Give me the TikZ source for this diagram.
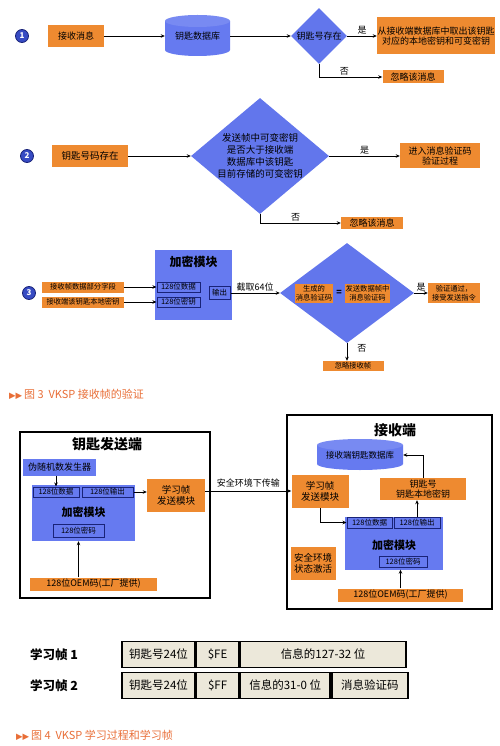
\documentclass[tikz,border=0pt]{standalone}
\usepackage{fontspec}
\setmainfont{Noto Sans CJK SC}
\newfontfamily\symfont{DejaVu Sans}
\usepackage{tikz}
\usetikzlibrary{arrows.meta}
\usetikzlibrary{positioning}
\usetikzlibrary{shapes.geometric}

\definecolor{boxorange}{RGB}{238,138,48}
\definecolor{modblue}{RGB}{102,122,240}
\definecolor{diablue}{RGB}{98,118,236}
\definecolor{navyline}{RGB}{25,35,120}
\definecolor{numblue}{RGB}{55,75,195}
\definecolor{cellfill}{RGB}{236,232,218}
\definecolor{capcolor}{RGB}{232,110,55}

\begin{document}
\begin{tikzpicture}[x=1pt,y=-1pt,
    arr/.style={line width=0.8pt,-{Stealth[length=4pt,width=3.5pt]}},
    obox/.style={fill=boxorange,inner sep=0.5pt,align=center,font=\fontsize{9}{10.5}\selectfont},
    sbox/.style={obox,font=\fontsize{7.3}{8.5}\selectfont},
    bbox/.style={fill=modblue,inner sep=0.5pt,align=center,font=\fontsize{9}{10.5}\selectfont},
    mod/.style={fill=modblue,inner sep=0pt},
    ibox/.style={draw=navyline,line width=1pt,fill=modblue,inner sep=0pt,font=\fontsize{7.5}{8.5}\selectfont},
    dia/.style={diamond,fill=diablue,inner sep=0pt},
    numdot/.style={circle,fill=numblue,draw=navyline,line width=0.8pt,text=white,inner sep=0pt,minimum size=13,font=\bfseries\fontsize{8}{8}\selectfont},
    frame/.style={draw,line width=1.3pt,inner sep=0pt},
    title/.style={font=\bfseries\fontsize{14}{15}\selectfont},
    lbl/.style={font=\fontsize{9}{10}\selectfont,inner sep=1pt},
    cell/.style={draw,line width=1.6pt,fill=cellfill,minimum height=26,inner sep=0pt,font=\fontsize{11.5}{12}\selectfont},
    captext/.style={text=capcolor,anchor=west,inner sep=0pt,font=\fontsize{11}{12}\selectfont}]
\useasboundingbox (0,0) rectangle (500,746);

% step 1
\node[numdot] (n1) at (22,36) {1};
\node[obox,minimum width=56,minimum height=22] (recv) at (76,36) {接收消息};
\fill[modblue] (165,21) -- (165,50) arc[start angle=180,end angle=360,x radius=32.5pt,y radius=6pt] -- (230,21) -- cycle;
\fill[modblue!88!white] (197.5,21) ellipse[x radius=32.5pt,y radius=6pt];
\node[inner sep=0,minimum width=65,minimum height=41,font=\fontsize{9}{10}\selectfont] (keydb) at (197.5,36) {\raisebox{-3pt}{钥匙数据库}};
\node[dia,minimum width=56,minimum height=56] (q1) at (319,36) {};
\node[lbl] at (q1) {钥匙号存在};
\node[obox,minimum width=118,minimum height=37] (fetch) at (436,36) {从接收端数据库中取出该钥匙\\对应的本地密钥和可变密钥};
\node[obox,minimum width=61,minimum height=13] (ign1) at (413,77) {忽略该消息};
\draw[arr] (recv) -- (keydb);
\draw[arr] (keydb) -- (q1);
\draw[arr] (q1) -- node[lbl,above] {是} (fetch);
\draw[arr] (q1.south) |- node[lbl,pos=0.7,above] {否} (ign1);

% step 2
\node[numdot] (n2) at (27,156) {2};
\node[obox,minimum width=76,minimum height=22,font=\fontsize{9.5}{11}\selectfont] (keyok) at (90,156) {钥匙号码存在};
\node[dia,minimum width=138,minimum height=116] (q2) at (260,156) {};
\node[align=center,inner sep=0,font=\fontsize{9.5}{12}\selectfont] at (q2) {发送帧中可变密钥\\是否大于接收端\\数据库中该钥匙\\目前存储的可变密钥};
\node[obox,minimum width=80,minimum height=25] (mac) at (440,156) {进入消息验证码\\验证过程};
\node[obox,minimum width=62,minimum height=12] (ign2) at (372,223) {忽略该消息};
\draw[arr] (keyok) -- (q2);
\draw[arr] (q2) -- node[lbl,above] {是} (mac);
\draw[arr] (q2.south) |- node[lbl,pos=0.72,above] {否} (ign2);

% step 3
\node[numdot] (n3) at (29,293) {3};
\node[sbox,minimum width=82,minimum height=11] (fdata) at (83,287) {接收帧数据部分字段};
\node[sbox,minimum width=82,minimum height=11] (lkey) at (83,302) {接收端该钥匙本地密钥};
\node[mod,minimum width=77,minimum height=70] (enc3) at (193.5,285) {};
\node[font=\bfseries\fontsize{12}{13}\selectfont] at (193.5,262) {加密模块};
\node[ibox,minimum width=43,minimum height=10] (din3) at (178.5,287) {128位数据};
\node[ibox,minimum width=43,minimum height=10] (kin3) at (178.5,302) {128位密钥};
\node[ibox,minimum width=21,minimum height=13] (out3) at (219.5,293) {输出};
\draw[arr] (fdata) -- (din3);
\draw[arr] (lkey) -- (kin3);
\node[dia,minimum width=134,minimum height=100] (q3) at (347,293) {};
\node[sbox,minimum width=38,minimum height=19] (genmac) at (314,293) {生成的\\消息验证码};
\node[font=\bfseries\fontsize{9}{9}\selectfont] (eq) at (339,293) {=};
\node[sbox,minimum width=45,minimum height=19] (rxmac) at (367.5,293) {发送数据帧中\\消息验证码};
\draw[arr] (out3) -- node[lbl,above] {截取64位} (q3);
\node[sbox,minimum width=52,minimum height=20] (pass) at (454,293) {验证通过，\\接受发送指令};
\draw[arr] (q3) -- node[lbl,above] {是} (pass);
\node[sbox,minimum width=61,minimum height=10] (ign3) at (353,366) {忽略接收帧};
\draw[arr] (q3.south) -- node[lbl,pos=0.3,right=9pt] {否} (q3.south |- ign3.north);

\node[captext] (cap3) at (9,394) {{\symfont\fontsize{8.5}{9}\selectfont ▶▶}\,图 3\ \ VKSP 接收帧的验证};

% sender
\node[frame,minimum width=190,minimum height=166] (sender) at (115,515) {};
\node[title] at (107,444) {钥匙发送端};
\node[bbox,minimum width=73,minimum height=17] (prng) at (59.5,467) {伪随机数发生器};
\node[mod,minimum width=103,minimum height=56] (encA) at (83.5,513) {};
\node[ibox,minimum width=46,minimum height=10] (dinA) at (56,492) {128位数据};
\node[ibox,minimum width=51,minimum height=10] (outA) at (107.5,492) {128位输出};
\node[font=\bfseries\fontsize{11}{12}\selectfont] at (83.5,512) {加密模块};
\node[ibox,minimum width=51,minimum height=13] (keyA) at (78.5,530.5) {128位密码};
\node[obox,minimum width=127,minimum height=13] (oemA) at (93.5,584) {128位OEM码(工厂提供)};
\node[obox,minimum width=58,minimum height=33,font=\fontsize{9.5}{11}\selectfont] (learnA) at (176,495.5) {学习帧\\发送模块};
\draw[arr] (dinA.north |- prng.south) -- (dinA.north);
\draw[arr] (keyA |- oemA.north) -- (keyA |- encA.south);
\draw[arr] (outA.east) -- (outA.east -| learnA.west);

% receiver
\node[frame,minimum width=205,minimum height=194] (receiver) at (389.5,512) {};
\node[title] at (395,430) {接收端};
\fill[modblue] (317,445) -- (317,464) arc[start angle=180,end angle=360,x radius=43pt,y radius=6pt] -- (403,445) -- cycle;
\fill[modblue!88!white] (360,445) ellipse[x radius=43pt,y radius=6pt];
\node[inner sep=0,minimum width=86,minimum height=32,font=\fontsize{8.5}{10}\selectfont] (rxdb) at (360,455) {\raisebox{-2pt}{接收端钥匙数据库}};
\node[obox,minimum width=57,minimum height=33,font=\fontsize{9.5}{11}\selectfont] (learnB) at (320,491) {学习帧\\发送模块};
\node[obox,minimum width=86,minimum height=22] (keyinfo) at (423,489) {钥匙号\\钥匙本地密钥};
\node[mod,minimum width=98,minimum height=53] (encB) at (394,543) {};
\node[ibox,minimum width=45,minimum height=11] (dinB) at (369.5,522.5) {128位数据};
\node[ibox,minimum width=46,minimum height=11] (outB) at (417,522.5) {128位输出};
\node[font=\bfseries\fontsize{11}{12}\selectfont] at (394,545) {加密模块};
\node[ibox,minimum width=48,minimum height=11] (keyB) at (403,562) {128位密码};
\node[obox,minimum width=125,minimum height=13] (oemB) at (400.5,595) {128位OEM码(工厂提供)};
\node[obox,minimum width=45,minimum height=33,font=\fontsize{9.5}{11}\selectfont] (secact) at (313,563.5) {安全环境\\状态激活};
\draw[arr] (learnB.west -| learnA.east) -- node[lbl,above=2pt] {安全环境下传输} (learnB.west);
\draw[arr] (learnB.south) |- (dinB.west);
\draw[arr] (outB.north) -- (outB.north |- keyinfo.south);
\draw[arr] (keyinfo.north) |- (rxdb.east);
\draw[arr] (oemB.north) -- (oemB.north |- encB.south);

% learn frames
\node[font=\bfseries\fontsize{12.5}{13}\selectfont] (f1) at (54,655) {学习帧 1};
\node[font=\bfseries\fontsize{12.5}{13}\selectfont] (f2) at (54,686) {学习帧 2};
\node[cell,minimum width=73] (c11) at (158.5,654.5) {钥匙号24位};
\node[cell,minimum width=42,right=0pt of c11] (c12) {\$FE};
\node[cell,minimum width=166,right=0pt of c12] (c13) {信息的127-32 位};
\node[cell,minimum width=73] (c21) at (158.5,685.5) {钥匙号24位};
\node[cell,minimum width=42,right=0pt of c21] (c22) {\$FF};
\node[cell,minimum width=90,right=0pt of c22] (c23) {信息的31-0 位};
\node[cell,minimum width=76,right=0pt of c23] (c24) {消息验证码};

\node[captext] (cap4) at (16,735) {{\symfont\fontsize{8.5}{9}\selectfont ▶▶}\,图 4\ \ VKSP 学习过程和学习帧};
\end{tikzpicture}
\end{document}
